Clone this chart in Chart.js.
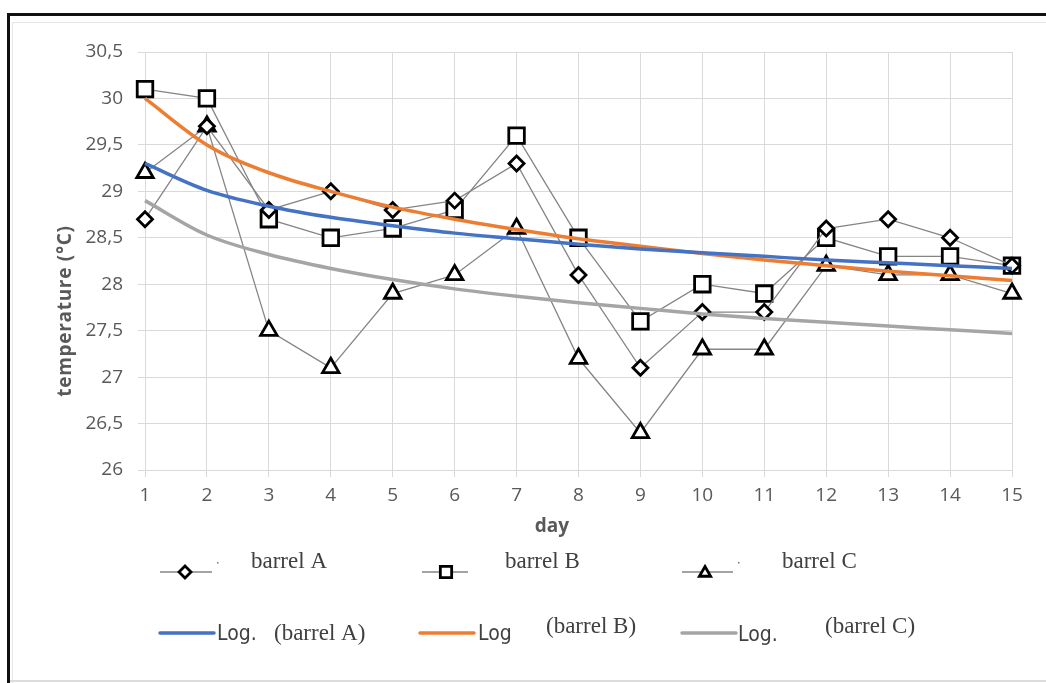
<!DOCTYPE html>
<html>
<head>
<meta charset="utf-8">
<script src="https://cdn.jsdelivr.net/npm/chart.js@4.4.1/dist/chart.umd.min.js"></script>
<style>
  html, body { margin: 0; padding: 0; background: #fff; }
  #wrap { position: relative; width: 1046px; height: 683px; overflow: hidden; }
  #myChart { position: absolute; left: 0; top: 0; }
  .frame { position: absolute; }
</style>
</head>
<body>
<div id="wrap">
  <canvas id="myChart" width="1046" height="683"></canvas>
  <!-- outer frame like the pasted picture -->
  <div class="frame" style="left:7px;top:13px;width:1039px;height:3px;background:#111;"></div>
  <div class="frame" style="left:7px;top:13px;width:3px;height:670px;background:#111;"></div>
  <div class="frame" style="left:12px;top:22px;width:1034px;height:1px;background:#e6e6e6;"></div>
  <div class="frame" style="left:12px;top:22px;width:1px;height:661px;background:#e6e6e6;"></div>
  <div class="frame" style="left:10px;top:680px;width:1036px;height:2px;background:#dcdcdc;"></div>
</div>
<script>
// days on x axis
var days = ['1', '2', '3', '4', '5', '6', '7', '8', '9', '10', '11', '12', '13', '14', '15'];

var barrelA = [28.7, 29.7, 28.8, 29.0, 28.8, 28.9, 29.3, 28.1, 27.1, 27.7, 27.7, 28.6, 28.7, 28.5, 28.2];
var barrelB = [30.1, 30.0, 28.7, 28.5, 28.6, 28.8, 29.6, 28.5, 27.6, 28.0, 27.9, 28.5, 28.3, 28.3, 28.2];
var barrelC = [29.2, 29.7, 27.5, 27.1, 27.9, 28.1, 28.6, 27.2, 26.4, 27.3, 27.3, 28.2, 28.1, 28.1, 27.9];

// log trend lines at each day
var logA = [29.30, 29.01, 28.84, 28.72, 28.63, 28.55, 28.49, 28.43, 28.38, 28.34, 28.30, 28.26, 28.23, 28.20, 28.17];
var logB = [30.00, 29.50, 29.20, 29.00, 28.83, 28.70, 28.59, 28.49, 28.41, 28.33, 28.26, 28.20, 28.14, 28.09, 28.04];
var logC = [28.90, 28.53, 28.32, 28.17, 28.05, 27.95, 27.87, 27.80, 27.74, 27.68, 27.63, 27.59, 27.55, 27.51, 27.47];

var yMin = 26, yMax = 30.5, yStep = 0.5;

var seriesGrey = '#858585';

function seriesSet(label, data, style, radius) {
    return {
        label: label,
        data: data,
        borderColor: seriesGrey,
        borderWidth: 1.3,
        pointStyle: style,
        pointRadius: radius,
        pointBorderColor: '#000',
        pointBackgroundColor: '#fff',
        pointBorderWidth: 2.8,
        tension: 0,
        order: 2
    };
}

function trendSet(label, data, color) {
    return {
        label: label,
        data: data,
        borderColor: color,
        borderWidth: 3.5,
        pointRadius: 0,
        cubicInterpolationMode: 'monotone',
        order: 1
    };
}

// legend + axis titles drawn by hand so they sit where the original has them
var extras = {
    id: 'extras',
    afterDraw: function (chart) {
        var ctx = chart.ctx;
        ctx.save();
        ctx.fillStyle = '#595959';
        ctx.font = 'bold 19px "Open Sans"';
        ctx.textAlign = 'center';
        ctx.textBaseline = 'alphabetic';
        ctx.fillText('day', 552, 532);
        ctx.save();
        ctx.translate(71, 311);
        ctx.rotate(-Math.PI / 2);
        ctx.letterSpacing = '0.7px';
        ctx.fillText('temperature (\u00B0C)', 0, 0);
        ctx.restore();

        // legend row 1 : sample lines with markers
        var row1 = [
            { x1: 160, x2: 212, cx: 185, style: 'rectRot', r: 6, text: 'barrel A', tx: 251 },
            { x1: 422, x2: 468, cx: 446, style: 'rect', r: 8, text: 'barrel B', tx: 505 },
            { x1: 682, x2: 733, cx: 705, style: 'triangle', r: 6.5, text: 'barrel C', tx: 782 }
        ];
        row1.forEach(function (it) {
            ctx.strokeStyle = seriesGrey;
            ctx.lineWidth = 1.3;
            ctx.beginPath();
            ctx.moveTo(it.x1, 572);
            ctx.lineTo(it.x2, 572);
            ctx.stroke();
            ctx.fillStyle = '#fff';
            ctx.strokeStyle = '#000';
            ctx.lineWidth = 2.8;
            Chart.helpers.drawPoint(ctx, { pointStyle: it.style, radius: it.r, rotation: 0, borderWidth: 2.8 }, it.cx, it.style === 'triangle' ? 573 : 572);
            ctx.fillStyle = '#404040';
            ctx.font = '23px "Liberation Serif"';
            ctx.textAlign = 'left';
            ctx.fillText(it.text, it.tx, 568);
        });
        ctx.fillStyle = '#777';
        ctx.fillRect(217, 562, 1.5, 1.5);
        ctx.fillRect(738, 562, 1.5, 1.5);

        // legend row 2 : trend lines
        var row2 = [
            { x1: 160, x2: 214, color: '#4472C4', log: 'Log.', lx: 217, ly: 640, text: '(barrel A)', tx: 274, ty: 640 },
            { x1: 420, x2: 474, color: '#ED7D31', log: 'Log', lx: 478, ly: 640, text: '(barrel B)', tx: 546, ty: 633 },
            { x1: 682, x2: 736, color: '#A5A5A5', log: 'Log.', lx: 738, ly: 641, text: '(barrel C)', tx: 825, ty: 633 }
        ];
        row2.forEach(function (it) {
            ctx.strokeStyle = it.color;
            ctx.lineWidth = 3.5;
            ctx.lineCap = 'round';
            ctx.beginPath();
            ctx.moveTo(it.x1, 633);
            ctx.lineTo(it.x2, 633);
            ctx.stroke();
            ctx.fillStyle = '#404040';
            ctx.font = '21px "DejaVu Sans Condensed", "Liberation Sans Narrow", "Open Sans"';
            ctx.fillText(it.log, it.lx, it.ly);
            ctx.font = '23px "Liberation Serif"';
            ctx.fillText(it.text, it.tx, it.ty);
        });
        ctx.restore();
    }
};

var myChart = document.getElementById('myChart').getContext('2d');
var chart = new Chart(myChart, {
    type: 'line',
    data: {
        labels: days,
        datasets: [
            seriesSet('barrel A', barrelA, 'rectRot', 7.5),
            seriesSet('barrel B', barrelB, 'rect', 11),
            seriesSet('barrel C', barrelC, 'triangle', 9.5),
            trendSet('Log. (barrel A)', logA, '#4472C4'),
            trendSet('Log (barrel B)', logB, '#ED7D31'),
            trendSet('Log. (barrel C)', logC, '#A5A5A5')
        ]
    },
    options: {
        responsive: false,
        animation: false,
        layout: { padding: { top: 52, right: 34, bottom: 153, left: 0 } },
        plugins: {
            legend: { display: false },
            tooltip: { enabled: false }
        },
        scales: {
            x: {
                type: 'category',
                offset: false,
                grid: { color: '#d9d9d9', lineWidth: 1, tickLength: 7 },
                border: { color: '#d9d9d9' },
                ticks: {
                    color: '#595959',
                    font: { family: 'Open Sans', size: 19 },
                    padding: 7,
                    maxRotation: 0,
                    autoSkip: false
                },
                afterFit: function (scale) { scale.height = 60; }
            },
            y: {
                min: yMin,
                max: yMax,
                grid: { color: '#d9d9d9', lineWidth: 1, tickLength: 7 },
                border: { color: '#d9d9d9' },
                ticks: {
                    stepSize: yStep,
                    color: '#595959',
                    font: { family: 'Open Sans', size: 19 },
                    padding: 15,
                    callback: function (v) { return String(v).replace('.', ','); }
                },
                afterFit: function (scale) { scale.width = 145; }
            }
        }
    },
    plugins: [extras]
});
</script>
</body>
</html>
